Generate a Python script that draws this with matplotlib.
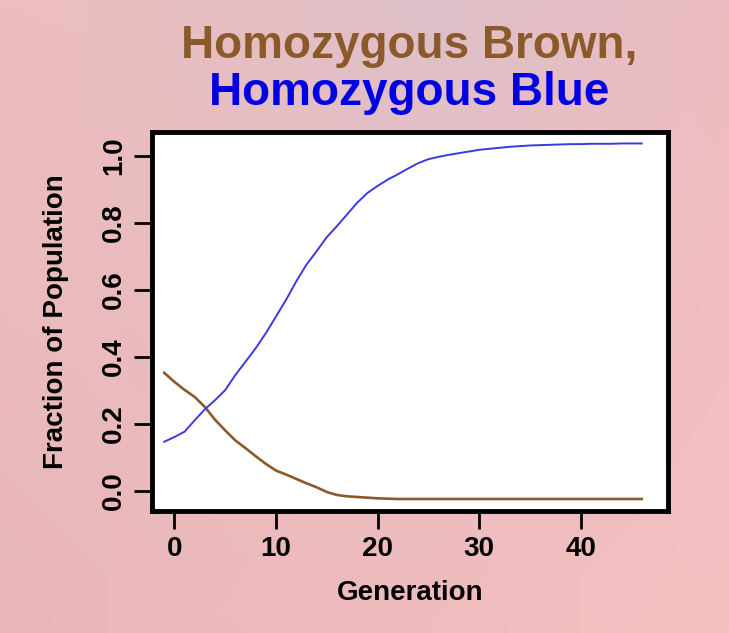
import numpy as np
import matplotlib
matplotlib.use("Agg")
import matplotlib.pyplot as plt

plt.rcParams['font.family'] = ['Liberation Sans', 'DejaVu Sans']
plt.rcParams['font.weight'] = 'bold'

# generations and fractions
generation = np.arange(-1, 47)
blue = [0.146, 0.160, 0.176, 0.210, 0.243, 0.270, 0.300, 0.345, 0.385, 0.425,
        0.470, 0.520, 0.570, 0.625, 0.675, 0.715, 0.757, 0.790, 0.825, 0.860,
        0.889, 0.910, 0.929, 0.945, 0.962, 0.978, 0.990, 0.997, 1.003, 1.008,
        1.013, 1.018, 1.021, 1.024, 1.027, 1.029, 1.031, 1.032, 1.033, 1.034,
        1.035, 1.035, 1.036, 1.036, 1.036, 1.037, 1.037, 1.037]
brown = [0.352, 0.325, 0.301, 0.280, 0.250, 0.212, 0.180, 0.150, 0.127, 0.103,
         0.080, 0.060, 0.048, 0.035, 0.022, 0.010, -0.004, -0.013, -0.017, -0.019,
         -0.021, -0.023, -0.024, -0.025, -0.025, -0.025, -0.025, -0.025, -0.025, -0.025,
         -0.025, -0.025, -0.025, -0.025, -0.025, -0.025, -0.025, -0.025, -0.025, -0.025,
         -0.025, -0.025, -0.025, -0.025, -0.025, -0.025, -0.025, -0.025]

xticks = [0, 10, 20, 30, 40]
yticks = [0.0, 0.2, 0.4, 0.6, 0.8, 1.0]

brown_col = '#8B5A2B'
blue_col = '#3a3ae0'

fig = plt.figure(figsize=(7.29, 6.33), dpi=100)

# pink background gradient
bg = fig.add_axes([0, 0, 1, 1], zorder=-10)
tl = np.array([238, 190, 190]) / 255
tc = np.array([222, 192, 200]) / 255
tr = np.array([236, 188, 194]) / 255
bl = np.array([232, 182, 186]) / 255
br = np.array([246, 192, 192]) / 255
u = np.linspace(0, 1, 80)[None, :, None]
v = np.linspace(0, 1, 80)[:, None, None]
top = np.where(u < 0.6, (1 - u / 0.6) * tl + (u / 0.6) * tc,
               (1 - (u - 0.6) / 0.4) * tc + ((u - 0.6) / 0.4) * tr)
bottom = (1 - u) * bl + u * br
img = (1 - v) * top + v * bottom
bg.imshow(img, aspect='auto', extent=[0, 1, 0, 1], interpolation='bilinear')
bg.axis('off')

ax = fig.add_axes([0.2085, 0.1935, 0.917 - 0.2085, 0.7915 - 0.1935])
ax.set_facecolor('white')
ax.plot(generation, brown, color=brown_col, lw=1.9)
ax.plot(generation, blue, color=blue_col, lw=1.4)

ax.set_xlim(-2.2, 48.64)
ax.set_ylim(-0.0594, 1.0713)
ax.set_xticks(xticks)
ax.set_yticks(yticks)
ax.set_xticklabels([str(t) for t in xticks])
ax.set_yticklabels(['%.1f' % t for t in yticks], rotation=90, va='center')

for s in ax.spines.values():
    s.set_linewidth(3.5)
    s.set_color('black')
ax.tick_params(length=13, width=2, labelsize=20, pad=5)
for lab in ax.get_xticklabels() + ax.get_yticklabels():
    lab.set_fontweight('bold')

ax.set_xlabel('Generation', fontsize=20, fontweight='bold', labelpad=13)
ax.set_ylabel('Fraction of Population', fontsize=20, fontweight='bold', labelpad=23)

fig.text(0.5617, 1 - 46 / 633, 'Homozygous Brown,', color=brown_col,
         fontsize=33, fontweight='bold', ha='center', va='center')
fig.text(0.5617, 1 - 93 / 633, 'Homozygous Blue', color='#0000e6',
         fontsize=33, fontweight='bold', ha='center', va='center')

fig.savefig('out.png', dpi=100)
